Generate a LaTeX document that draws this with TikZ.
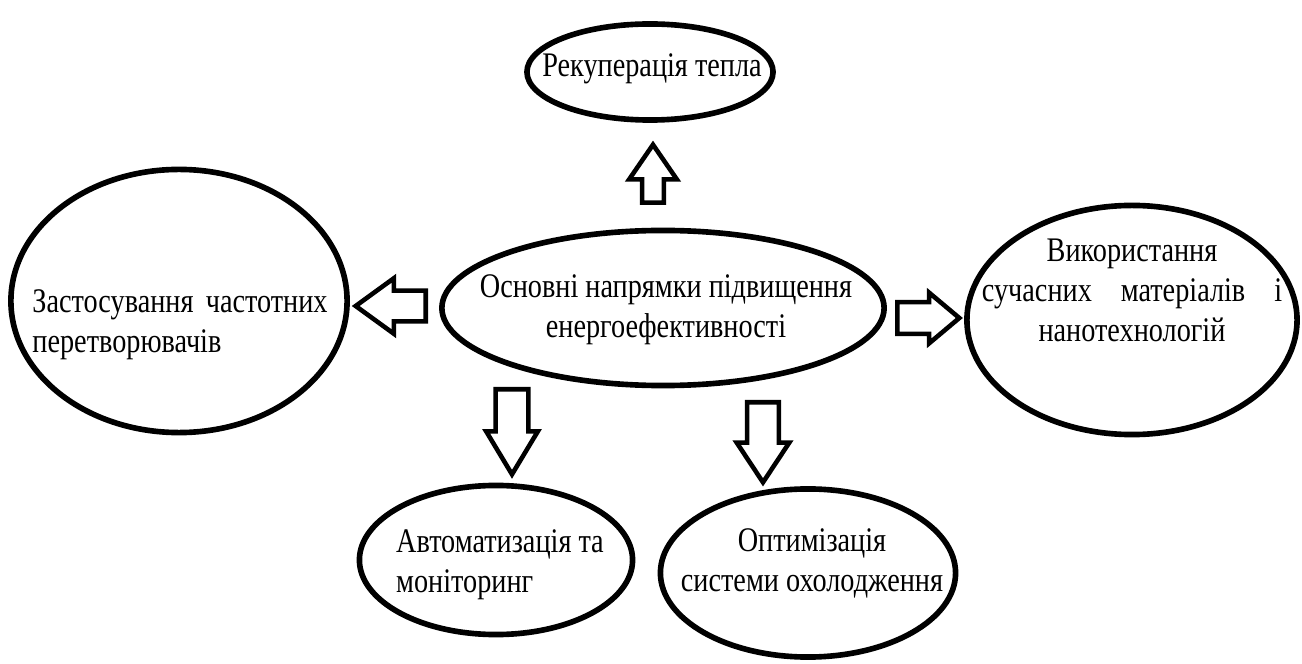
\documentclass[tikz,border=0pt]{standalone}
\usepackage{fontspec}
\setmainfont{Liberation Serif}[FakeStretch=0.82]
\usetikzlibrary{shapes.geometric,shapes.arrows}

\tikzset{
  topic/.style={draw, ellipse, line width=1.6pt, inner sep=0pt},
  txt/.style={font=\fontsize{9.8}{11.4}\selectfont, inner sep=0pt},
  barrow/.style={draw, single arrow, line width=1.3pt, inner xsep=0pt,
    anchor=tail}
}

\begin{document}
\begin{tikzpicture}[x=0.01cm, y=-0.01cm]
  \useasboundingbox (0,0) rectangle (1302,664);

  % ellipses
  \node[topic, minimum width=4.42cm, minimum height=1.55cm] (core) at (663,308) {};
  \node[topic, minimum width=2.46cm, minimum height=0.96cm] (heat) at (650,72) {};
  \node[topic, minimum width=3.36cm, minimum height=2.63cm] (freq) at (179,301) {};
  \node[topic, minimum width=3.30cm, minimum height=2.29cm] (mat) at (1132,320) {};
  \node[topic, minimum width=2.73cm, minimum height=1.49cm] (auto) at (496,560) {};
  \node[topic, minimum width=2.95cm, minimum height=1.68cm] (cool) at (808,573) {};

  % texts
  \node[txt, align=center] (coreT) at (666,310) {Основні напрямки підвищення\\енергоефективності};
  \node[txt] (heatT) at (652,69) {Рекуперація тепла};
  \node[txt, align=left] (freqT) at (180,325)
    {\makebox[2.95cm][s]{Застосування частотних}\\перетворювачів};
  \node[txt, align=center] (matT) at (1132,290)
    {Використання\\\makebox[3.0cm][s]{сучасних матеріалів і}\\нанотехнологій};
  \node[txt, align=left] (autoT) at (500,565) {Автоматизація та\\моніторинг};
  \node[txt, align=center] (coolT) at (812,563) {Оптимізація\\системи охолодження};

  % block arrows
  \node[barrow, rotate=90, inner ysep=0.085cm, single arrow head extend=0.13cm,
    minimum height=0.58cm, single arrow tip angle=69] (toHeat) at (653,205) {};
  \node[barrow, rotate=180, inner ysep=0.13cm, single arrow head extend=0.125cm,
    minimum height=0.70cm, single arrow tip angle=72] (toFreq) at (428,306) {};
  \node[barrow, inner ysep=0.135cm, single arrow head extend=0.095cm,
    minimum height=0.62cm, single arrow tip angle=80] (toMat) at (895,318) {};
  \node[barrow, rotate=-90, inner ysep=0.14cm, single arrow head extend=0.095cm,
    minimum height=0.85cm, single arrow tip angle=62] (toAuto) at (512,387) {};
  \node[barrow, rotate=-90, inner ysep=0.135cm, single arrow head extend=0.105cm,
    minimum height=0.80cm, single arrow tip angle=67] (toCool) at (763,400) {};
\end{tikzpicture}
\end{document}
